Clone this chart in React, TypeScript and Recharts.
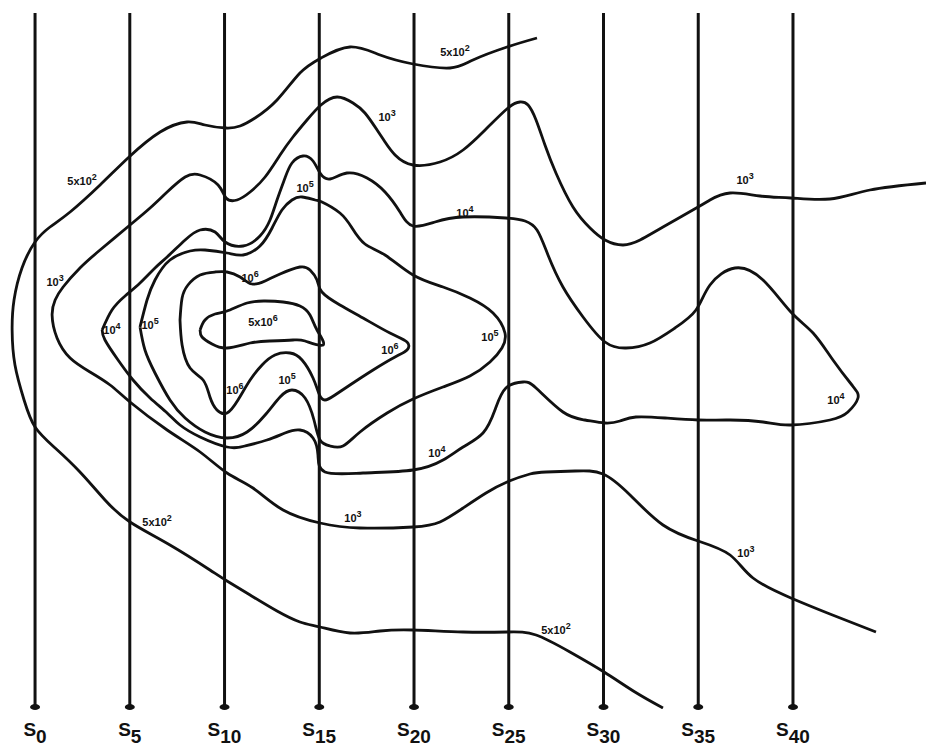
import React from "react";
import {
  ComposedChart,
  Line,
  Scatter,
  XAxis,
  YAxis,
  ReferenceLine,
  ReferenceDot,
} from "recharts";

// station positions along the section (x unit = station number)
const STATIONS = [0, 5, 10, 15, 20, 25, 30, 35, 40];
const X_DOMAIN: [number, number] = [-1.85, 47.02];
// depth scale (0 at top)
const Y_DOMAIN: [number, number] = [0, 709];
const LINE_TOP = 13;
const LINE_BOTTOM = 706;

// contour 5x10^2 (open)
const C_5E2 = [
  [26.49, 38], [24.91, 47], [23.11, 60], [21.9, 68], [19.95, 64], [18.21, 55], [16.62, 47],
  [15.09, 58], [13.98, 73], [12.77, 100], [11.61, 118], [10.82, 126], [10.08, 128], [8.97, 125],
  [8.02, 122], [6.6, 132], [4.96, 157], [3.43, 185], [1.85, 212], [0.79, 227], [0, 242],
  [-0.69, 268], [-1.11, 300], [-1.21, 330], [-1.06, 365], [-0.58, 400], [0, 427], [1.06, 448],
  [2.37, 472], [3.69, 500], [5.01, 522], [7.12, 545], [9.23, 570], [10.13, 581], [11.35, 595],
  [12.77, 611], [13.98, 622], [15.04, 627], [16.62, 633], [18.21, 631], [19.95, 630], [22.59, 632],
  [24.91, 632], [26.44, 635], [28.23, 652], [30.03, 672], [31.66, 692], [33.14, 708],
];

// contour 10^3 (open)
const C_1E3 = [
  [47.02, 183], [44.06, 190], [41.95, 199], [39.89, 198], [38.26, 196], [36.68, 193], [35.62, 200],
  [34.99, 207], [33.14, 227], [31.93, 240], [31.03, 245], [30.08, 240], [29.29, 228], [28.39, 207],
  [27.49, 173], [26.91, 145], [26.44, 120], [26.02, 105], [25.59, 102], [24.96, 108], [23.75, 130],
  [22.59, 150], [21.37, 162], [19.95, 165], [19.0, 155], [18.47, 142], [18.05, 130], [17.41, 113],
  [16.78, 103], [15.94, 97], [15.09, 105], [14.35, 120], [13.61, 137], [12.93, 155], [12.14, 177],
  [11.35, 192], [10.66, 200], [10.08, 198], [9.66, 185], [8.71, 175], [7.92, 177], [6.97, 192],
  [6.07, 208], [5.01, 225], [3.43, 250], [2.37, 268], [1.48, 287], [1.06, 300], [0.9, 315],
  [1.16, 338], [1.85, 358], [2.9, 372], [3.96, 385], [5.01, 402], [6.97, 430], [8.71, 452],
  [10.13, 473], [11.5, 488], [13.09, 510], [15.04, 523], [17.15, 528], [19.95, 527], [21.37, 522],
  [22.59, 508], [23.8, 493], [24.91, 482], [26.12, 474], [26.97, 472], [28.5, 471], [29.97, 474],
  [31.4, 495], [33.14, 525], [34.99, 541], [36.68, 555], [37.89, 578], [39.89, 598], [41.95, 614],
  [44.38, 632],
];

// contour 10^4 (closed)
const C_1E4 = [
  [3.54, 330], [4.06, 310], [4.75, 296], [5.54, 283], [6.33, 268], [6.97, 257], [7.92, 240],
  [8.71, 230], [9.5, 232], [10.03, 242], [10.98, 246], [11.87, 236], [12.4, 220], [12.77, 200],
  [13.19, 178], [13.56, 163], [14.14, 156], [14.67, 161], [15.04, 173], [15.57, 179], [16.46, 173],
  [17.52, 178], [18.47, 192], [19.26, 212], [19.95, 226], [21.11, 222], [22.59, 217], [24.85, 218],
  [25.86, 221], [26.49, 230], [27.07, 255], [27.86, 287], [28.92, 317], [30.08, 342], [31.19, 348],
  [32.45, 343], [33.77, 328], [34.88, 310], [35.62, 285], [36.94, 268], [38.42, 280], [39.89, 312],
  [41.06, 333], [42.11, 360], [43.11, 385], [43.43, 398], [42.9, 412], [41.95, 420], [39.89, 425],
  [38.42, 422], [36.68, 420], [34.99, 420], [33.25, 418], [31.71, 417], [30.87, 421], [30.08, 423],
  [29.02, 420], [27.86, 412], [26.44, 388], [25.75, 382], [24.85, 388], [24.27, 410], [23.64, 433],
  [22.59, 447], [21.53, 460], [19.95, 470], [17.31, 473], [15.3, 472], [14.93, 455], [14.67, 438],
  [13.98, 430], [13.19, 433], [12.24, 440], [11.08, 446], [10.13, 447], [8.71, 437], [7.65, 425],
  [6.97, 413], [6.07, 398], [5.17, 380], [4.38, 360], [3.69, 340], [3.54, 330],
];

// contour 10^5 (closed)
const C_1E5 = [
  [5.54, 327], [5.91, 300], [6.33, 280], [7.12, 260], [8.18, 251], [8.97, 250], [10.13, 253],
  [10.98, 255], [11.87, 246], [12.51, 228], [13.03, 210], [13.56, 200], [14.09, 197], [14.78, 200],
  [15.14, 202], [16.09, 213], [16.73, 228], [17.41, 244], [18.47, 255], [19.95, 275], [21.53, 287],
  [22.95, 298], [24.17, 313], [24.8, 333], [24.64, 348], [24.01, 362], [22.95, 376], [21.53, 387],
  [19.95, 399], [18.58, 413], [17.15, 432], [16.25, 446], [15.57, 446], [15.04, 440], [14.72, 420],
  [14.25, 398], [13.56, 390], [12.93, 397], [12.14, 415], [11.19, 432], [10.13, 438], [8.97, 432],
  [7.92, 418], [7.12, 400], [6.33, 373], [5.8, 350], [5.54, 327],
];

// contour 10^6 (closed)
const C_1E6 = [
  [7.65, 320], [7.76, 298], [8.07, 285], [8.71, 275], [9.5, 272], [10.13, 272], [10.82, 277],
  [11.45, 284], [12.14, 281], [12.93, 274], [13.98, 267], [14.51, 270], [14.88, 280], [15.14, 292],
  [16.09, 305], [17.31, 318], [18.73, 333], [19.63, 342], [19.63, 350], [19.0, 357], [17.84, 370],
  [16.62, 385], [15.83, 395], [15.3, 400], [14.99, 394], [14.67, 378], [14.09, 360], [13.46, 353],
  [12.66, 355], [11.98, 365], [11.35, 380], [10.71, 400], [10.13, 413], [9.6, 410], [9.23, 397],
  [8.87, 380], [8.18, 368], [7.76, 345], [7.65, 320],
];

// contour 5x10^6 (closed)
const C_5E6 = [
  [8.71, 330], [8.97, 320], [9.5, 314], [10.13, 311], [11.19, 303], [12.14, 301], [13.09, 302],
  [13.98, 306], [14.51, 315], [14.88, 330], [15.2, 345], [14.25, 341], [13.61, 340], [12.4, 341],
  [11.35, 343], [10.13, 348], [9.34, 344], [8.81, 337], [8.71, 330],
];

// contour labels: [x, y, mantissa, exponent]
const LABELS: [number, number, string, string][] = [
  [2.48, 181, "5x10", "2"],
  [22.16, 52, "5x10", "2"],
  [6.44, 522, "5x10", "2"],
  [27.49, 630, "5x10", "2"],
  [18.58, 117, "10", "3"],
  [37.47, 180, "10", "3"],
  [1.06, 282, "10", "3"],
  [16.78, 518, "10", "3"],
  [37.52, 553, "10", "3"],
  [4.06, 330, "10", "4"],
  [22.69, 213, "10", "4"],
  [21.21, 453, "10", "4"],
  [42.27, 400, "10", "4"],
  [6.07, 325, "10", "5"],
  [13.3, 380, "10", "5"],
  [24.01, 337, "10", "5"],
  [14.25, 188, "10", "5"],
  [11.35, 278, "10", "6"],
  [10.55, 390, "10", "6"],
  [18.73, 350, "10", "6"],
  [12.03, 322, "5x10", "6"],
];

const toPoints = (arr: number[][]) => arr.map(([x, y]) => ({ x, y }));

const CONTOURS = [C_5E2, C_1E3, C_1E4, C_1E5, C_1E6, C_5E6].map(toPoints);
const labelData = LABELS.map(([x, y, base, exp]) => ({ x, y, base, exp }));

const INK = "#111";
const FONT = "'Liberation Sans', Arial, sans-serif";

function StationTick({ x, y, payload }: any) {
  return (
    <text
      x={x}
      y={y + 27}
      textAnchor="middle"
      fontFamily={FONT}
      fontWeight={700}
      fontSize={19}
      fill={INK}
    >
      S<tspan dy={7}>{payload.value}</tspan>
    </text>
  );
}

function ContourLabel(props: any) {
  const { cx, cy, payload } = props;
  return (
    <text
      x={cx}
      y={cy + 4}
      textAnchor="middle"
      fontFamily={FONT}
      fontWeight={700}
      fontSize={11}
      fill={INK}
    >
      {payload.base}
      <tspan dy={-5} fontSize={9}>
        {payload.exp}
      </tspan>
    </text>
  );
}

function StationFoot({ cx, cy }: any) {
  return <ellipse cx={cx} cy={cy + 1} rx={5} ry={3} fill={INK} />;
}

export default function App() {
  return (
    <div style={{ position: "absolute", left: 0, top: 0, background: "#fff" }}>
      <ComposedChart
        width={926}
        height={749}
        margin={{ top: 0, right: 0, bottom: 0, left: 0 }}
      >
        <XAxis
          type="number"
          dataKey="x"
          domain={X_DOMAIN}
          allowDataOverflow
          ticks={STATIONS}
          interval={0}
          tick={<StationTick />}
          axisLine={false}
          tickLine={false}
          tickSize={0}
          tickMargin={0}
          height={40}
        />
        <YAxis
          type="number"
          dataKey="y"
          domain={Y_DOMAIN}
          allowDataOverflow
          reversed
          hide
          width={0}
        />
        {STATIONS.map((s) => (
          <ReferenceLine
            key={`st-${s}`}
            segment={[
              { x: s, y: LINE_TOP },
              { x: s, y: LINE_BOTTOM },
            ]}
            stroke={INK}
            strokeWidth={3}
          />
        ))}
        {STATIONS.map((s) => (
          <ReferenceDot
            key={`foot-${s}`}
            x={s}
            y={LINE_BOTTOM}
            r={4}
            shape={StationFoot}
          />
        ))}
        {CONTOURS.map((pts, i) => (
          <Line
            key={`c-${i}`}
            data={pts}
            dataKey="y"
            type="natural"
            stroke={INK}
            strokeWidth={2.8}
            dot={false}
            activeDot={false}
            isAnimationActive={false}
          />
        ))}
        <Scatter
          data={labelData}
          dataKey="y"
          shape={ContourLabel}
          isAnimationActive={false}
        />
      </ComposedChart>
    </div>
  );
}
